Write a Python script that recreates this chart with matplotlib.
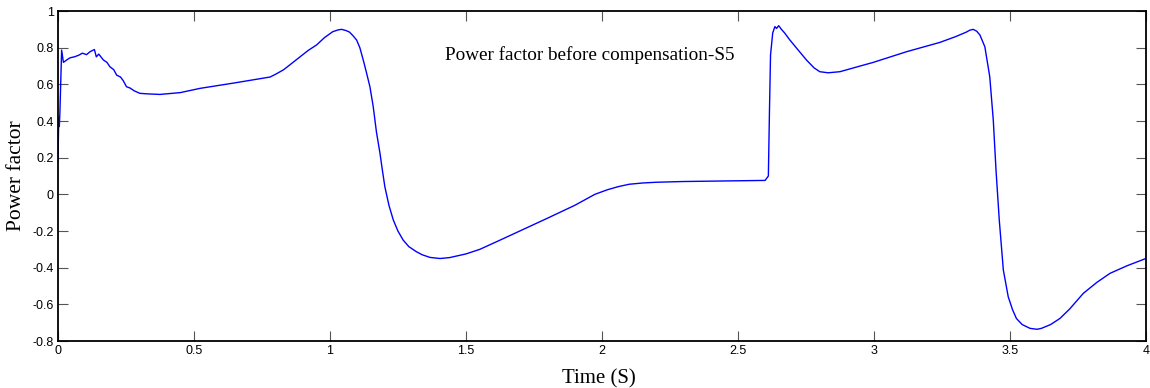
import matplotlib
matplotlib.use("Agg")
import matplotlib.pyplot as plt

# ───── Data (time in s, power factor) ─────
time_s = [
    0.000, 0.003, 0.005, 0.007, 0.010, 0.0135, 0.020, 0.035, 0.045, 0.060,
    0.075, 0.090, 0.105, 0.118, 0.134, 0.141, 0.150, 0.167, 0.180, 0.191,
    0.205, 0.216, 0.230, 0.240, 0.252, 0.265, 0.280, 0.301, 0.330, 0.375,
    0.450, 0.522, 0.650, 0.780, 0.800, 0.830, 0.860, 0.890, 0.920, 0.951,
    0.980, 1.010, 1.030, 1.043, 1.060, 1.072, 1.085, 1.098, 1.110, 1.123,
    1.135, 1.147, 1.159, 1.171, 1.184, 1.193, 1.202, 1.217, 1.233, 1.250,
    1.269, 1.290, 1.318, 1.340, 1.368, 1.405, 1.440, 1.500, 1.551, 1.625,
    1.800, 1.900, 1.974, 2.020, 2.060, 2.100, 2.150, 2.200, 2.300, 2.450,
    2.600, 2.612, 2.616, 2.620, 2.628, 2.636, 2.642, 2.650, 2.660, 2.672,
    2.691, 2.720, 2.752, 2.780, 2.801, 2.832, 2.875, 2.998, 3.120, 3.243,
    3.300, 3.340, 3.352, 3.365, 3.378, 3.390, 3.408, 3.426, 3.439, 3.449,
    3.461, 3.476, 3.494, 3.510, 3.524, 3.545, 3.574, 3.600, 3.616, 3.650,
    3.684, 3.720, 3.770, 3.820, 3.868, 3.930, 4.000,
]
power_factor = [
    0.180, 0.420, 0.370, 0.440, 0.600, 0.787, 0.720, 0.736, 0.745, 0.750,
    0.758, 0.770, 0.762, 0.778, 0.790, 0.750, 0.765, 0.733, 0.720, 0.696,
    0.680, 0.650, 0.640, 0.620, 0.587, 0.580, 0.565, 0.551, 0.548, 0.545,
    0.555, 0.578, 0.608, 0.640, 0.655, 0.680, 0.715, 0.750, 0.785, 0.815,
    0.855, 0.887, 0.897, 0.900, 0.893, 0.885, 0.865, 0.842, 0.800, 0.730,
    0.660, 0.587, 0.480, 0.340, 0.224, 0.130, 0.041, -0.060, -0.140, -0.200,
    -0.249, -0.285, -0.313, -0.330, -0.344, -0.350, -0.345, -0.325, -0.300, -0.250,
    -0.130, -0.060, 0.000, 0.025, 0.042, 0.055, 0.062, 0.066, 0.070, 0.073,
    0.076, 0.100, 0.450, 0.760, 0.880, 0.915, 0.905, 0.920, 0.900, 0.880,
    0.842, 0.790, 0.733, 0.690, 0.669, 0.663, 0.669, 0.720, 0.778, 0.829,
    0.860, 0.885, 0.895, 0.900, 0.890, 0.869, 0.805, 0.642, 0.405, 0.133,
    -0.140, -0.413, -0.559, -0.630, -0.677, -0.710, -0.731, -0.736, -0.731, -0.710,
    -0.677, -0.625, -0.540, -0.480, -0.431, -0.390, -0.350,
]

x_ticks = [0, 0.5, 1, 1.5, 2, 2.5, 3, 3.5, 4]
x_tick_labels = ["0", "0.5", "1", "1.5", "2", "2.5", "3", "3.5", "4"]
y_ticks = [-0.8, -0.6, -0.4, -0.2, 0, 0.2, 0.4, 0.6, 0.8, 1]
y_tick_labels = ["-0.8", "-0.6", "-0.4", "-0.2", "0", "0.2", "0.4", "0.6", "0.8", "1"]

TICK_FONT = ["Liberation Sans", "DejaVu Sans"]
TEXT_FONT = ["Liberation Serif", "DejaVu Serif"]

fig = plt.figure(figsize=(11.5, 3.88), dpi=100)
ax = fig.add_axes([0.0504, 0.1211, 0.946, 0.8505])

ax.plot(time_s, power_factor, color="#0000ff", linewidth=1.0)

ax.set_xlim(0, 4)
ax.set_ylim(-0.8, 1)
ax.set_xticks(x_ticks)
ax.set_xticklabels(x_tick_labels, family=TICK_FONT, fontsize=9)
ax.set_yticks(y_ticks)
ax.set_yticklabels(y_tick_labels, family=TICK_FONT, fontsize=9)
ax.tick_params(direction="in", length=7, width=0.8, color="#555555",
               top=True, right=True, pad=3)

for sp in ax.spines.values():
    sp.set_linewidth(1.3)
    sp.set_color("black")

ax.set_xlabel("Time (S)", family=TEXT_FONT, fontsize=15)
ax.set_ylabel("Power factor", family=TEXT_FONT, fontsize=15.5)
ax.xaxis.set_label_coords(0.497, -0.085)
ax.yaxis.set_label_coords(-0.029, 0.5)

ax.text(0.356, 0.868, "Power factor before compensation-S5",
        transform=ax.transAxes, family=TEXT_FONT, fontsize=13.8,
        ha="left", va="center")

fig.savefig("out.png", dpi=100)
